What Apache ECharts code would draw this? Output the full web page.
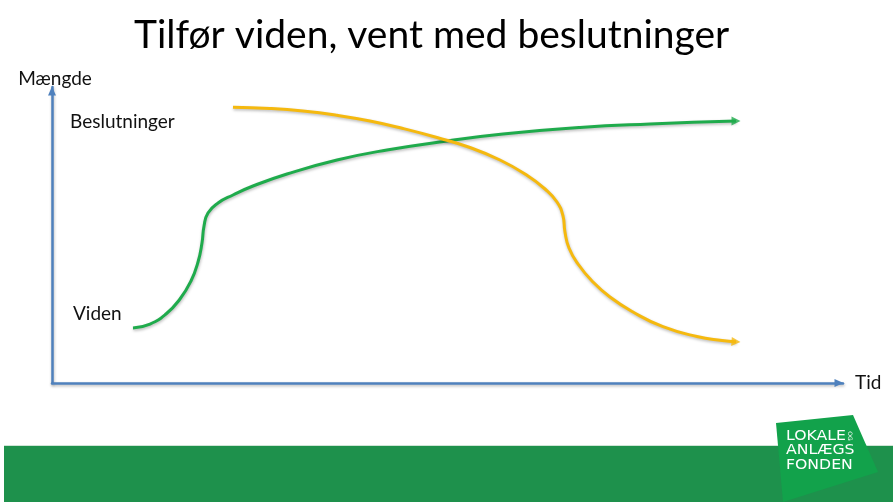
<!DOCTYPE html>
<html>
<head>
<meta charset="utf-8">
<script src="https://cdn.jsdelivr.net/npm/echarts@6/dist/echarts.min.js"></script>
<style>
  html, body { margin: 0; padding: 0; background: #fff; }
  #chart { width: 893px; height: 502px; }
</style>
</head>
<body>
<div id="chart"></div>
<script>
// Tid (0-100) / Mængde (0-100)
const videnPts = [
  [10.24, 18.58], [12.39, 19.93], [14.41, 23.31], [16.18, 28.38], [17.57, 34.46],
  [18.46, 40.88], [18.96, 47.30], [19.22, 53.04], [19.72, 57.43], [20.99, 60.81],
  [22.88, 63.51], [25.41, 66.55], [29.71, 70.61], [36.03, 75.34], [42.35, 78.72],
  [49.94, 81.76], [57.02, 84.12], [66.75, 86.32], [75.60, 87.50], [86.47, 88.51]
];
const beslutPts = [
  [22.88, 93.14], [27.56, 92.74], [31.73, 91.89], [36.03, 90.44], [40.20, 88.51],
  [44.37, 85.98], [48.67, 82.94], [52.84, 79.56], [56.64, 75.34], [59.80, 70.61],
  [62.33, 65.54], [63.84, 61.15], [64.60, 56.42], [64.85, 51.01], [65.36, 45.61],
  [66.50, 40.20], [68.27, 34.46], [70.54, 29.05], [73.45, 23.99], [77.24, 19.02],
  [81.54, 15.71], [84.70, 14.36], [86.47, 13.92]
];
const titleText = 'Tilfør viden, vent med beslutninger';
const xName = 'Tid';
const yName = 'Mængde';
const seriesNames = ['Viden', 'Beslutninger'];
const logoLines = ['LOKALE', 'ANLÆGS', 'FONDEN'];

const GREEN = '#1fab4c';
const YELLOW = '#f5b90f';
const AXIS = '#4f81bd';
const FONT = 'Lato, "Open Sans", sans-serif';
const LOGO_FONT = '14px "DejaVu Sans", sans-serif';

const shadow = { shadowColor: 'rgba(0,0,0,0.28)', shadowBlur: 3, shadowOffsetY: 1.5, shadowOffsetX: 0.5 };

function axisLine() {
  return {
    show: true,
    symbol: ['none', 'triangle'],
    symbolSize: [8, 9],
    symbolOffset: [0, -4],
    lineStyle: Object.assign({ color: AXIS, width: 2.5 }, shadow)
  };
}

function logoText(i) {
  return {
    type: 'text', x: 786, y: 436 + i * 14.7, scaleX: 1.12,
    style: { text: logoLines[i], font: LOGO_FONT, fill: '#fff', verticalAlign: 'middle' }
  };
}

const chart = echarts.init(document.getElementById('chart'));
chart.setOption({
  backgroundColor: '#fff',
  animation: false,
  title: {
    text: titleText, left: 129, top: 11,
    textStyle: { fontFamily: FONT, fontSize: 39, fontWeight: 'normal', color: '#000' }
  },
  grid: { left: 52, right: 50, top: 87, bottom: 119 },
  xAxis: {
    type: 'value', min: 0, max: 100,
    name: xName, nameLocation: 'end', nameGap: 12,
    nameTextStyle: { fontFamily: FONT, fontSize: 19, color: '#111', verticalAlign: 'middle' },
    axisLine: axisLine(), axisTick: { show: false }, axisLabel: { show: false }, splitLine: { show: false }
  },
  yAxis: {
    type: 'value', min: 0, max: 100,
    name: yName, nameLocation: 'end', nameGap: -1,
    nameTextStyle: { fontFamily: FONT, fontSize: 19, color: '#111', align: 'center', padding: [0, 0, 0, 6] },
    axisLine: axisLine(), axisTick: { show: false }, axisLabel: { show: false }, splitLine: { show: false }
  },
  series: [
    {
      name: seriesNames[0], type: 'line', data: videnPts, smooth: 0.5, smoothMonotone: 'none',
      showSymbol: false, lineStyle: Object.assign({ color: GREEN, width: 3 }, shadow)
    },
    {
      name: seriesNames[1], type: 'line', data: beslutPts, smooth: 0.5, smoothMonotone: 'none',
      showSymbol: false, lineStyle: Object.assign({ color: YELLOW, width: 3 }, shadow)
    },
    {
      type: 'scatter', symbol: 'triangle', symbolSize: [9, 9],
      data: [
        { value: videnPts[videnPts.length - 1], symbolRotate: -90, itemStyle: { color: GREEN } },
        { value: beslutPts[beslutPts.length - 1], symbolRotate: -94, itemStyle: { color: YELLOW } }
      ],
      z: 3
    }
  ],
  graphic: [
    { type: 'text', left: 70, top: 112, style: { text: seriesNames[1], font: '19px ' + FONT, fill: '#111' } },
    { type: 'text', left: 73, top: 304, style: { text: seriesNames[0], font: '19px ' + FONT, fill: '#111' } },
    { type: 'rect', shape: { x: 4, y: 446, width: 889, height: 56 }, style: { fill: '#1e914c' } },
    { type: 'rect', shape: { x: 4, y: 445, width: 889, height: 1 }, style: { fill: '#cfe5d6' } },
    { type: 'polygon', shape: { points: [[776, 423], [853, 415], [878, 472], [783, 502]] }, style: { fill: '#12a24b' } },
    logoText(0), logoText(1), logoText(2),
    { type: 'text', x: 850, y: 436, rotation: -Math.PI / 2,
      style: { text: 'OG', font: '6px "DejaVu Sans", sans-serif', fill: '#fff', align: 'center', verticalAlign: 'middle' } }
  ]
});
</script>
</body>
</html>
